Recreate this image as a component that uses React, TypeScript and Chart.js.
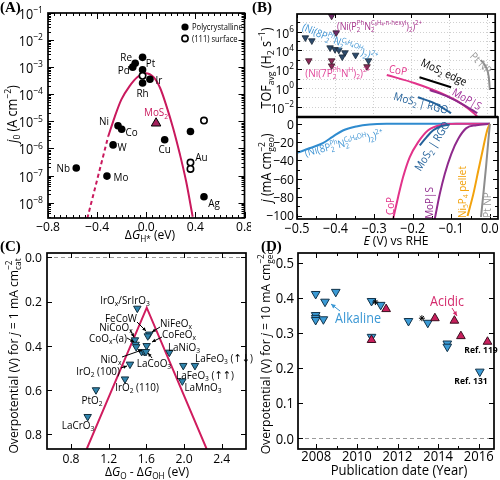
import React, { useEffect, useRef } from "react";
import { Chart, registerables } from "chart.js";

Chart.register(...registerables);

const SANS = '"Open Sans", "Noto Sans", "DejaVu Sans", sans-serif';
const SERIF = '"Liberation Serif", "DejaVu Serif", serif';
const SX = 0.9;

// ===================== DATA =====================
// (A) exchange current density vs ΔG_H*
const A_POLY_METAL = ["Nb", "Mo", "W", "Ni", "Co", "Pd", "Re", "Pt", "Pt", "Rh", "Ir", "Cu", "Au", "Ag"];
const A_POLY_DGH = [-0.57, -0.32, -0.27, -0.23, -0.2, -0.11, -0.09, -0.03, -0.03, -0.03, 0.03, 0.15, 0.36, 0.47];
const A_POLY_J0 = [1.9e-7, 9.5e-8, 1.35e-6, 6.9e-6, 5.1e-6, 1.0e-3, 1.4e-3, 2.3e-3, 8.0e-4, 2.6e-4, 3.6e-4, 2.1e-6, 4.2e-6, 1.65e-8];
const A_111_METAL = ["Pt", "Au", "Au", "Ag"];
const A_111_DGH = [-0.03, 0.36, 0.36, 0.47];
const A_111_J0 = [4.8e-4, 3.0e-7, 1.75e-7, 1.07e-5];
const A_MOS2_DGH = [0.08];
const A_MOS2_J0 = [8.5e-6];
const A_VOLCANO_DGH = [-0.31, -0.256, -0.203, -0.137, -0.071, -0.006, 0.06, 0.113, 0.166, 0.219, 0.272, 0.325, 0.378];
const A_VOLCANO_J0 = [2.75e-6, 1.5e-5, 6.3e-5, 1.95e-4, 4.3e-4, 6.0e-4, 4.3e-4, 1.7e-4, 3.5e-5, 5.6e-6, 6.6e-7, 6.0e-8, 3.0e-9];
const A_EXTRAP_DGH = [-0.48, -0.4, -0.31];
const A_EXTRAP_J0 = [2.6e-9, 6.9e-8, 2.75e-6];
const A_X_TICKS = [-0.8, -0.4, 0, 0.4, 0.8];
const A_Y_TICK_EXP = [-1, -2, -3, -4, -5, -6, -7, -8];

// (B) TOF and polarisation curves
const B_X_TICKS = [-0.5, -0.4, -0.3, -0.2, -0.1, 0.0];
const B_TOF_TICK_EXP = [-2, 0, 2, 4, 6];
const B_J_TICKS = [0, -20, -40, -60, -80, -100];
const B_HEXYL_E = [-0.409, -0.397];
const B_HEXYL_TOF = [4.7e7, 7.8e5];
const B_8P_E = [-0.478, -0.461, -0.413, -0.4, -0.39, -0.374, -0.381, -0.346, -0.312];
const B_8P_TOF = [2.3e5, 1.1e5, 1.95e4, 1.3e4, 1.1e4, 5.8e3, 2.1e3, 3.2e3, 8.1e2];
const B_7P_E = [-0.469, -0.409, -0.409, -0.316];
const B_7P_TOF = [8.1e2, 8.1e2, 2.3e2, 1.9e2];
const B_COP_TOF_E = [-0.264, -0.19, -0.121, -0.069, -0.035, -0.026];
const B_COP_TOF = [24, 3.2, 0.27, 0.023, 1.95e-3, 8.5e-4];
const B_MOS2EDGE_TOF_E = [-0.178, -0.095];
const B_MOS2EDGE_TOF = [13.8, 1.17];
const B_MOPS_TOF_E = [-0.151, -0.104, -0.061, -0.026];
const B_MOPS_TOF = [0.6, 0.117, 0.015, 2.0e-3];
const B_MOS2RGO_TOF_E = [-0.182, -0.138, -0.095];
const B_MOS2RGO_TOF = [0.1, 0.023, 2.0e-3];
const B_PTNP_TOF_E = [-0.017, -0.004, 0.004, 0.007];
const B_PTNP_TOF = [955, 186, 15.8, 0.6];
const B_NI8P_E = [-0.498, -0.468, -0.433, -0.407, -0.381, -0.346, -0.312, -0.268, 0];
const B_NI8P_J = [-31.5, -26.7, -21.2, -13.9, -7.3, -2.9, -0.7, 0, 0];
const B_COP_E = [-0.251, -0.238, -0.225, -0.208, -0.186, -0.16, -0.13, -0.087, 0];
const B_COP_J = [-104, -80, -58, -36.5, -20, -7, -1.6, 0, 0];
const B_MOS2RGO_E = [-0.182, -0.164, -0.147, -0.125, -0.104];
const B_MOS2RGO_J = [-23.6, -14.5, -7.1, -2.4, -0.9];
const B_MOPS_E = [-0.143, -0.13, -0.117, -0.1, -0.082, -0.061, -0.035, 0];
const B_MOPS_J = [-104, -76.7, -54.7, -32.7, -16.3, -4.7, -1.6, 0];
const B_NI5P4_E = [-0.058, -0.043, -0.03, -0.017, -0.007, 0];
const B_NI5P4_J = [-100.5, -76.7, -51, -25.5, -7, 0];
const B_PTNP_E = [-0.023, -0.017, -0.01, -0.004, 0];
const B_PTNP_J = [-101.6, -76.7, -47, -18, 0];

// (C) OER volcano
const C_X_TICKS = [0.8, 1.2, 1.6, 2.0, 2.4];
const C_Y_TICKS = [0, 0.2, 0.4, 0.6, 0.8];
const C_DG = [1.504, 1.631, 1.615, 1.479, 1.486, 1.492, 1.603, 1.55, 1.578, 1.596, 1.844, 1.426, 1.373, 1.065, 0.977, 2.116, 1.992, 1.982];
const C_ETA = [0.231, 0.348, 0.356, 0.374, 0.394, 0.405, 0.4, 0.427, 0.427, 0.427, 0.43, 0.484, 0.551, 0.6, 0.721, 0.49, 0.49, 0.56];
const C_VOLCANO_DG = [0.967, 1.604, 2.24];
const C_VOLCANO_ETA = [0.867, 0.228, 0.867];

// (D) overpotential vs publication date
const D_X_TICKS = [2008, 2010, 2012, 2014, 2016];
const D_Y_TICKS = [0, 0.1, 0.2, 0.3, 0.4, 0.5];
const D_ALK_YEAR = [2007.97, 2007.97, 2007.97, 2007.97, 2008.35, 2008.43, 2008.96, 2010.72, 2010.72, 2011.17, 2012.54, 2013.49, 2014.45, 2014.45, 2016.05];
const D_ALK_ETA = [0.411, 0.351, 0.343, 0.337, 0.339, 0.389, 0.417, 0.391, 0.289, 0.38, 0.334, 0.329, 0.27, 0.261, 0.19];
const D_ACID_YEAR = [2010.72, 2011.44, 2013.84, 2014.8, 2015.12, 2016.43];
const D_ACID_ETA = [0.28, 0.368, 0.342, 0.335, 0.291, 0.275];
const D_STAR_YEAR = [2010.91, 2013.2];
const D_STAR_ETA = [0.388, 0.342];

// ===================== RICH TEXT =====================
type RichOpt = { size: number; color?: string; align?: "left" | "center" | "right"; rot?: number; bold?: boolean; family?: string; sx?: number };
type Seg = { t: string; t2?: string; k: "n" | "sub" | "sup" | "stack"; it: boolean };

function parseRich(s: string): Seg[] {
  const out: Seg[] = [];
  let it = false;
  let buf = "";
  const flush = () => {
    if (buf) {
      out.push({ t: buf, k: "n", it });
      buf = "";
    }
  };
  for (let i = 0; i < s.length; i++) {
    const c = s[i];
    if (c === "~") {
      flush();
      it = !it;
      continue;
    }
    if ((c === "_" || c === "^" || c === "@") && s[i + 1] === "{") {
      flush();
      const end = s.indexOf("}", i + 2);
      const inner = s.slice(i + 2, end);
      if (c === "@") {
        const [p, q] = inner.split("|");
        out.push({ t: p, t2: q, k: "stack", it });
      } else out.push({ t: inner, k: c === "_" ? "sub" : "sup", it });
      i = end;
      continue;
    }
    buf += c;
  }
  flush();
  return out;
}

function rich(ctx: CanvasRenderingContext2D, s: string, x: number, y: number, o: RichOpt) {
  const segs = parseRich(s);
  const fam = o.family || SANS;
  const sz = o.size;
  const ss = sz * 0.68;
  const f = (size: number, it: boolean) => `${it ? "italic " : ""}${o.bold ? "bold " : ""}${size}px ${fam}`;
  const widths = segs.map((g) => {
    if (g.k === "n") {
      ctx.font = f(sz, g.it);
      return ctx.measureText(g.t).width;
    }
    ctx.font = f(ss, g.it);
    if (g.k === "stack") return Math.max(ctx.measureText(g.t).width, ctx.measureText(g.t2 || "").width);
    return ctx.measureText(g.t).width;
  });
  const w = widths.reduce((p, q) => p + q, 0);
  ctx.save();
  ctx.translate(x, y);
  if (o.rot) ctx.rotate((o.rot * Math.PI) / 180);
  ctx.scale(o.sx ?? SX, 1);
  ctx.fillStyle = o.color || "#000";
  ctx.textAlign = "left";
  ctx.textBaseline = "alphabetic";
  let cx = o.align === "left" ? 0 : o.align === "right" ? -w : -w / 2;
  const base = sz * 0.36;
  segs.forEach((g, i) => {
    if (g.k === "n") {
      ctx.font = f(sz, g.it);
      ctx.fillText(g.t, cx, base);
    } else {
      ctx.font = f(ss, g.it);
      if (g.k === "sub") ctx.fillText(g.t, cx, base + sz * 0.22);
      else if (g.k === "sup") ctx.fillText(g.t, cx, base - sz * 0.42);
      else {
        ctx.fillText(g.t, cx, base - sz * 0.42);
        ctx.fillText(g.t2 || "", cx, base + sz * 0.22);
      }
    }
    cx += widths[i];
  });
  ctx.restore();
}

// ===================== HELPERS =====================
const num = (v: number, d: number) => (v < -1e-9 ? "−" : "") + Math.abs(v).toFixed(d);

function frame(ctx: CanvasRenderingContext2D, a: any, lw = 1.7) {
  ctx.save();
  ctx.strokeStyle = "#000";
  ctx.lineWidth = lw;
  ctx.setLineDash([]);
  ctx.strokeRect(a.left, a.top, a.right - a.left, a.bottom - a.top);
  ctx.restore();
}

function ticksX(ctx: CanvasRenderingContext2D, a: any, sc: any, vals: number[], len: number, top = true, bottom = true) {
  ctx.save();
  ctx.strokeStyle = "#000";
  ctx.lineWidth = 1;
  ctx.beginPath();
  vals.forEach((v) => {
    const p = Math.round(sc.getPixelForValue(v)) + 0.5;
    if (bottom) {
      ctx.moveTo(p, a.bottom);
      ctx.lineTo(p, a.bottom - len);
    }
    if (top) {
      ctx.moveTo(p, a.top);
      ctx.lineTo(p, a.top + len);
    }
  });
  ctx.stroke();
  ctx.restore();
}

function ticksY(ctx: CanvasRenderingContext2D, a: any, sc: any, vals: number[], len: number, left = true, right = true) {
  ctx.save();
  ctx.strokeStyle = "#000";
  ctx.lineWidth = 1;
  ctx.beginPath();
  vals.forEach((v) => {
    const p = Math.round(sc.getPixelForValue(v)) + 0.5;
    if (left) {
      ctx.moveTo(a.left, p);
      ctx.lineTo(a.left + len, p);
    }
    if (right) {
      ctx.moveTo(a.right, p);
      ctx.lineTo(a.right - len, p);
    }
  });
  ctx.stroke();
  ctx.restore();
}

function arrow(ctx: CanvasRenderingContext2D, x1: number, y1: number, x2: number, y2: number, color = "#000", head = 4) {
  const ang = Math.atan2(y2 - y1, x2 - x1);
  ctx.save();
  ctx.strokeStyle = color;
  ctx.fillStyle = color;
  ctx.lineWidth = 1;
  ctx.beginPath();
  ctx.moveTo(x1, y1);
  ctx.lineTo(x2, y2);
  ctx.stroke();
  ctx.beginPath();
  ctx.moveTo(x2, y2);
  ctx.lineTo(x2 - head * Math.cos(ang - 0.45), y2 - head * Math.sin(ang - 0.45));
  ctx.lineTo(x2 - head * Math.cos(ang + 0.45), y2 - head * Math.sin(ang + 0.45));
  ctx.closePath();
  ctx.fill();
  ctx.restore();
}

function panelLabel(ctx: CanvasRenderingContext2D, s: string, x: number, y: number) {
  ctx.save();
  ctx.font = `bold 15px ${SERIF}`;
  ctx.fillStyle = "#000";
  ctx.textAlign = "left";
  ctx.textBaseline = "middle";
  ctx.fillText(s, x, y);
  ctx.restore();
}

const pts = (xs: number[], ys: number[]) => xs.map((x, i) => ({ x, y: ys[i] }));

function marks(xs: number[], ys: number[], o: { style: string; r: number; bg: string; border?: string; bw?: number; rot?: number }) {
  return {
    data: pts(xs, ys),
    showLine: false,
    pointStyle: o.style,
    pointRadius: o.r,
    pointBackgroundColor: o.bg,
    pointBorderColor: o.border ?? o.bg,
    pointBorderWidth: o.bw ?? 0,
    pointRotation: o.rot ?? 0,
    backgroundColor: o.bg,
    borderColor: o.border ?? o.bg,
  };
}

function curve(xs: number[], ys: number[], color: string, width: number, dash?: number[], smooth = true) {
  return {
    data: pts(xs, ys),
    showLine: true,
    borderColor: color,
    backgroundColor: color,
    borderWidth: width,
    borderDash: dash ?? [],
    pointRadius: 0,
    cubicInterpolationMode: smooth ? "monotone" : "default",
    tension: 0,
    fill: false,
  };
}

const lin = (min: number, max: number, reverse = false) => ({ type: "linear", min, max, reverse, display: false, bounds: "data" });
const logS = (min: number, max: number) => ({ type: "logarithmic", min, max, display: false, bounds: "data" });

type Area = { l: number; t: number; r: number; b: number };

function makeConfig(W: number, H: number, area: Area, x: any, y: any, datasets: any[], before: (c: any) => void, after: (c: any) => void): any {
  return {
    type: "scatter",
    data: { datasets },
    options: {
      responsive: false,
      maintainAspectRatio: false,
      animation: false,
      events: [],
      layout: { padding: { left: area.l, top: area.t, right: W - area.r, bottom: H - area.b } },
      plugins: { legend: { display: false }, tooltip: { enabled: false }, title: { display: false } },
      scales: { x, y },
    },
    plugins: [
      {
        id: "overlay",
        beforeDatasetsDraw: (c: any) => before(c),
        afterDatasetsDraw: (c: any) => after(c),
      },
    ],
  };
}

const noop = () => {};

// ===================== PANEL A =====================
const A_POLY_LABEL_OFFSETS: ([number, number] | null)[] = [
  [-13, 0], [14, 1], [9, 2], [-14, -5], [10, 3], [-9, 3], [-9, -6], [8, 6], null, [0, 10], [9, 1], [0, 9], null, [10, 6],
];
const A_111_LABEL_OFFSETS: ([number, number] | null)[] = [null, [11, -6], null, null];

function configA(W: number, H: number) {
  const area = { l: 48, t: 13, r: 250, b: 218 };
  const RED = "#c9195d";
  return makeConfig(
    W, H, area,
    lin(-0.8, 0.8),
    logS(2.7e-9, 0.1),
    [
      marks(A_MOS2_DGH, A_MOS2_J0, { style: "triangle", r: 5.5, bg: "#a3215c", border: "#000", bw: 1 }),
      marks(A_111_DGH, A_111_J0, { style: "circle", r: 3.2, bg: "#fff", border: "#000", bw: 1.6 }),
      marks(A_POLY_DGH, A_POLY_J0, { style: "circle", r: 3.8, bg: "#000" }),
      curve(A_VOLCANO_DGH, A_VOLCANO_J0, RED, 2),
      curve(A_EXTRAP_DGH, A_EXTRAP_J0, RED, 2, [4, 3]),
    ],
    noop,
    (c: any) => {
      const ctx: CanvasRenderingContext2D = c.ctx;
      const a = c.chartArea;
      const xs = c.scales.x;
      const ys = c.scales.y;
      const xMinor: number[] = [];
      for (let i = -16; i <= 16; i++) xMinor.push(i * 0.05);
      ticksX(ctx, a, xs, xMinor, 3);
      ticksX(ctx, a, xs, A_X_TICKS, 6);
      const yMinor: number[] = [];
      for (let e = -9; e <= -2; e++) for (let m = 2; m <= 9; m++) {
        const v = m * Math.pow(10, e);
        if (v >= ys.min && v <= ys.max) yMinor.push(v);
      }
      ticksY(ctx, a, ys, yMinor, 3);
      ticksY(ctx, a, ys, A_Y_TICK_EXP.map((e) => Math.pow(10, e)), 6);
      frame(ctx, a);
      A_X_TICKS.forEach((v) => rich(ctx, num(v, 1), xs.getPixelForValue(v), 226, { size: 13.5 }));
      A_Y_TICK_EXP.forEach((e) => rich(ctx, `10^{−${-e}}`, 43, ys.getPixelForValue(Math.pow(10, e)) + 1, { size: 14, align: "right" }));
      rich(ctx, "~j~_{0} (A cm^{−2})", 12, 114, { size: 14, rot: -90 });
      rich(ctx, "Δ~G~_{H*} (eV)", 150, 234, { size: 13.5 });
      A_POLY_METAL.forEach((m, i) => {
        const o = A_POLY_LABEL_OFFSETS[i];
        if (!o) return;
        rich(ctx, m, xs.getPixelForValue(A_POLY_DGH[i]) + o[0], ys.getPixelForValue(A_POLY_J0[i]) + o[1], { size: 11 });
      });
      A_111_METAL.forEach((m, i) => {
        const o = A_111_LABEL_OFFSETS[i];
        if (!o) return;
        rich(ctx, m, xs.getPixelForValue(A_111_DGH[i]) + o[0], ys.getPixelForValue(A_111_J0[i]) + o[1], { size: 11 });
      });
      rich(ctx, "MoS_{2}", xs.getPixelForValue(A_MOS2_DGH[0]), ys.getPixelForValue(A_MOS2_J0[0]) - 11, { size: 11, color: RED });
      // legend
      ctx.save();
      ctx.fillStyle = "#000";
      ctx.beginPath();
      ctx.arc(185, 27, 3.6, 0, Math.PI * 2);
      ctx.fill();
      ctx.strokeStyle = "#000";
      ctx.lineWidth = 1.6;
      ctx.beginPath();
      ctx.arc(185, 38.5, 3.1, 0, Math.PI * 2);
      ctx.stroke();
      ctx.restore();
      rich(ctx, "Polycrystalline", 192, 27, { size: 9.5, align: "left", sx: 0.8 });
      rich(ctx, "(111) surface", 192, 38.5, { size: 9.5, align: "left", sx: 0.8 });
      panelLabel(ctx, "(A)", 0, 8);
    }
  );
}

// ===================== PANEL B =====================
const COL_BLUE = "#2f8bcf";
const COL_PINK = "#e2338a";
const COL_PURPLE = "#8f2a8c";
const COL_DBLUE = "#23619a";
const COL_ORANGE = "#f2a20c";
const COL_GRAY = "#8d8d8d";
const B_AREA_L = 297;
const B_AREA_R = 498;

function configBTop(W: number, H: number) {
  const area = { l: B_AREA_L, t: 14, r: B_AREA_R, b: 117 };
  return makeConfig(
    W, H, area,
    lin(-0.5, 0.021),
    logS(7.9e-4, 7.8e7),
    [
      marks(B_HEXYL_E, B_HEXYL_TOF, { style: "triangle", r: 3.8, bg: "#6e2a68", border: "#2a1a2a", bw: 0.8, rot: 180 }),
      marks(B_8P_E, B_8P_TOF, { style: "triangle", r: 3.8, bg: "#2d4b6c", border: "#1a2a3a", bw: 0.8, rot: 180 }),
      marks(B_7P_E, B_7P_TOF, { style: "triangle", r: 3.8, bg: "#8c2a58", border: "#3a1a2a", bw: 0.8, rot: 180 }),
      curve(B_MOS2EDGE_TOF_E, B_MOS2EDGE_TOF, "#000", 2, undefined, false),
      curve(B_MOS2RGO_TOF_E, B_MOS2RGO_TOF, COL_DBLUE, 2),
      curve(B_MOPS_TOF_E, B_MOPS_TOF, COL_PURPLE, 2),
      curve(B_COP_TOF_E, B_COP_TOF, COL_PINK, 2),
      curve(B_PTNP_TOF_E, B_PTNP_TOF, COL_GRAY, 2),
    ],
    (c: any) => {
      const ctx: CanvasRenderingContext2D = c.ctx;
      const a = c.chartArea;
      ctx.save();
      ctx.strokeStyle = "#c4c4c4";
      ctx.lineWidth = 0.8;
      ctx.setLineDash([1, 2]);
      ctx.beginPath();
      B_X_TICKS.forEach((v) => {
        const p = Math.round(c.scales.x.getPixelForValue(v)) + 0.5;
        ctx.moveTo(p, a.top);
        ctx.lineTo(p, a.bottom);
      });
      for (let e = -3; e <= 7; e++) {
        const p = Math.round(c.scales.y.getPixelForValue(Math.pow(10, e))) + 0.5;
        ctx.moveTo(a.left, p);
        ctx.lineTo(a.right, p);
      }
      ctx.stroke();
      ctx.restore();
    },
    (c: any) => {
      const ctx: CanvasRenderingContext2D = c.ctx;
      const a = c.chartArea;
      const xs = c.scales.x;
      const ys = c.scales.y;
      const major: number[] = [];
      const minor: number[] = [];
      for (let e = -3; e <= 7; e++) (e % 2 === 0 ? major : minor).push(Math.pow(10, e));
      ticksY(ctx, a, ys, minor, 3);
      ticksY(ctx, a, ys, major, 5);
      ticksX(ctx, a, xs, B_X_TICKS, 4, true, false);
      frame(ctx, a);
      B_TOF_TICK_EXP.forEach((e) => rich(ctx, e < 0 ? `10^{−${-e}}` : `10^{${e}}`, 294, ys.getPixelForValue(Math.pow(10, e)) + 1, { size: 13.5, align: "right" }));
      rich(ctx, "TOF_{avg} (H_{2} s^{−1})", 266, 68, { size: 14, rot: -90 });
      rich(ctx, "(Ni(P@{Ph|2}N@{C₆H₄-n-hexyl|2})_{2})^{2+}", 337, 26, { size: 10, color: "#a6348c", align: "left" });
      rich(ctx, "(Ni(8P@{Ph|2}N@{C₆H₄OH|2})_{2})^{2+}", 340, 42, { size: 10.5, color: "#3d93d3", rot: 23 });
      rich(ctx, "(Ni(7P@{Ph|2}N^{H})_{2})^{2+}", 338, 73, { size: 11, color: "#e0479a" });
      rich(ctx, "CoP", 398, 70, { size: 11, color: COL_PINK, rot: 10 });
      rich(ctx, "MoS_{2} edge", 444, 72, { size: 11, rot: 25 });
      rich(ctx, "MoP|S", 467, 99, { size: 11, color: "#a0309a", rot: 30 });
      rich(ctx, "MoS_{2} | RGO", 421, 103, { size: 11, color: COL_DBLUE, rot: 15 });
      rich(ctx, "Pt NP", 481, 63, { size: 11, color: "#999", rot: 45 });
      panelLabel(ctx, "(B)", 252, 8);
    }
  );
}

function configBBottom(W: number, H: number) {
  const area = { l: B_AREA_L, t: 117, r: B_AREA_R, b: 219 };
  return makeConfig(
    W, H, area,
    lin(-0.5, 0.021),
    lin(-103.8, 7.4),
    [
      curve(B_MOS2RGO_E, B_MOS2RGO_J, COL_DBLUE, 2),
      curve(B_PTNP_E, B_PTNP_J, COL_GRAY, 2),
      curve(B_NI5P4_E, B_NI5P4_J, COL_ORANGE, 2),
      curve(B_MOPS_E, B_MOPS_J, COL_PURPLE, 2),
      curve(B_COP_E, B_COP_J, COL_PINK, 2),
      curve(B_NI8P_E, B_NI8P_J, COL_BLUE, 2),
    ],
    noop,
    (c: any) => {
      const ctx: CanvasRenderingContext2D = c.ctx;
      const a = c.chartArea;
      const xs = c.scales.x;
      const ys = c.scales.y;
      const xMinor: number[] = [];
      for (let i = -10; i <= 0; i++) xMinor.push(i * 0.05);
      ticksX(ctx, a, xs, xMinor, 3, false, true);
      ticksX(ctx, a, xs, B_X_TICKS, 5, false, true);
      const yMinor: number[] = [];
      for (let v = -100; v <= 0; v += 10) yMinor.push(v);
      ticksY(ctx, a, ys, yMinor, 3);
      ticksY(ctx, a, ys, B_J_TICKS, 5);
      frame(ctx, a);
      ctx.save();
      ctx.strokeStyle = "#000";
      ctx.lineWidth = 2.4;
      ctx.beginPath();
      ctx.moveTo(a.left, a.top);
      ctx.lineTo(a.right, a.top);
      ctx.stroke();
      ctx.restore();
      B_J_TICKS.forEach((v) => rich(ctx, num(v, 0), 294, ys.getPixelForValue(v), { size: 13.5, align: "right" }));
      B_X_TICKS.forEach((v) => rich(ctx, num(v, 1), xs.getPixelForValue(v), 228, { size: 14 }));
      rich(ctx, "~j~ (mA cm@{−2|geo})", 266, 168, { size: 14, rot: -90 });
      rich(ctx, "~E~ (V) vs RHE", 396, 240, { size: 13.5 });
      rich(ctx, "(Ni(8P@{Ph|2}N@{C₆H₄OH|2})_{2})^{2+}", 344, 143, { size: 10.5, color: "#3d93d3", rot: -14 });
      rich(ctx, "MoS_{2} | RGO", 432, 146, { size: 11, color: COL_DBLUE, rot: -58 });
      rich(ctx, "CoP", 390, 206, { size: 11, color: COL_PINK, rot: -90 });
      rich(ctx, "MoP|S", 429, 203, { size: 11, color: COL_PURPLE, rot: -90 });
      rich(ctx, "Ni_{5}P_{4} pellet", 462, 192, { size: 11, color: COL_ORANGE, rot: -90 });
      rich(ctx, "Pt NP", 487, 205, { size: 11, color: "#999", rot: -90 });
    }
  );
}

// ===================== PANEL C =====================
function configC(W: number, H: number) {
  const area = { l: 47, t: 253, r: 246, b: 449 };
  const RED = "#d01c5e";
  return makeConfig(
    W, H, area,
    lin(0.545, 2.658),
    lin(-0.0195, 0.8674, true),
    [
      marks(C_DG, C_ETA, { style: "triangle", r: 4.3, bg: "#2f84ad", border: "#14303f", bw: 1, rot: 180 }),
      curve(C_VOLCANO_DG, C_VOLCANO_ETA, RED, 2, undefined, false),
    ],
    (c: any) => {
      const ctx: CanvasRenderingContext2D = c.ctx;
      const a = c.chartArea;
      const p = Math.round(c.scales.y.getPixelForValue(0)) + 0.5;
      ctx.save();
      ctx.strokeStyle = "#9a9a9a";
      ctx.lineWidth = 1.2;
      ctx.setLineDash([4, 3]);
      ctx.beginPath();
      ctx.moveTo(a.left, p);
      ctx.lineTo(a.right, p);
      ctx.stroke();
      ctx.restore();
    },
    (c: any) => {
      const ctx: CanvasRenderingContext2D = c.ctx;
      const a = c.chartArea;
      const xs = c.scales.x;
      const ys = c.scales.y;
      ticksX(ctx, a, xs, C_X_TICKS, 5);
      ticksY(ctx, a, ys, C_Y_TICKS, 5);
      frame(ctx, a);
      C_X_TICKS.forEach((v) => rich(ctx, num(v, 1), xs.getPixelForValue(v), 458, { size: 13.5 }));
      C_Y_TICKS.forEach((v) => rich(ctx, num(v, 1), 42, ys.getPixelForValue(v), { size: 13.5, align: "right" }));
      rich(ctx, "Overpotential (V) for ~j~ = 1 mA cm@{−2|cat}", 13, 356, { size: 13.5, rot: -90 });
      rich(ctx, "Δ~G~_{O} - Δ~G~_{OH} (eV)", 147, 471, { size: 13.5 });
      const L = (s: string, x: number, y: number) => rich(ctx, s, x, y, { size: 11 });
      L("IrO_{x}/SrIrO_{3}", 125, 300);
      L("FeCoW", 121, 318);
      L("NiCoO_{x}", 116, 327);
      L("CoO_{x}-(a)", 108, 338);
      L("NiFeO_{x}", 176, 323);
      L("CoFeO_{x}", 179, 334);
      L("LaNiO_{3}", 184, 347);
      L("NiO_{x}", 111, 359);
      L("IrO_{2} (100)", 98, 371);
      L("LaCoO_{3}", 154, 363);
      L("IrO_{2} (110)", 137, 387);
      L("LaFeO_{3} (↑↓)", 224, 358);
      L("LaFeO_{3} (↑↑)", 205, 375);
      L("LaMnO_{3}", 203, 387);
      L("PtO_{2}", 92, 400);
      L("LaCrO_{3}", 78, 425);
      arrow(ctx, 137, 322, 146, 331);
      arrow(ctx, 130, 330, 134, 337);
      arrow(ctx, 127, 338, 134, 342);
      arrow(ctx, 160, 327, 152, 332);
      arrow(ctx, 162, 337, 152, 342);
      arrow(ctx, 122, 357, 142, 350);
      arrow(ctx, 121, 368, 127, 366);
      arrow(ctx, 152, 358, 148, 353);
      panelLabel(ctx, "(C)", 0, 247);
    }
  );
}

// ===================== PANEL D =====================
function configD(W: number, H: number) {
  const area = { l: 298, t: 253, r: 499, b: 449 };
  return makeConfig(
    W, H, area,
    lin(2007.1, 2016.75),
    lin(-0.0302, 0.5276),
    [
      marks(D_STAR_YEAR, D_STAR_ETA, { style: "star", r: 3, bg: "#000", border: "#000", bw: 1 }),
      marks(D_ACID_YEAR, D_ACID_ETA, { style: "triangle", r: 5, bg: "#c81f5c", border: "#3a1020", bw: 1 }),
      marks(D_ALK_YEAR, D_ALK_ETA, { style: "triangle", r: 5, bg: "#3b9bd6", border: "#12334a", bw: 1, rot: 180 }),
    ],
    (c: any) => {
      const ctx: CanvasRenderingContext2D = c.ctx;
      const a = c.chartArea;
      const p = Math.round(c.scales.y.getPixelForValue(0)) + 0.5;
      ctx.save();
      ctx.strokeStyle = "#9a9a9a";
      ctx.lineWidth = 1.2;
      ctx.setLineDash([4, 3]);
      ctx.beginPath();
      ctx.moveTo(a.left, p);
      ctx.lineTo(a.right, p);
      ctx.stroke();
      ctx.restore();
    },
    (c: any) => {
      const ctx: CanvasRenderingContext2D = c.ctx;
      const a = c.chartArea;
      const xs = c.scales.x;
      const ys = c.scales.y;
      const xMinor: number[] = [];
      for (let v = 2008; v <= 2016; v++) xMinor.push(v);
      ticksX(ctx, a, xs, xMinor, 3);
      ticksX(ctx, a, xs, D_X_TICKS, 5);
      ticksY(ctx, a, ys, D_Y_TICKS, 5);
      frame(ctx, a);
      D_X_TICKS.forEach((v) => rich(ctx, String(v), xs.getPixelForValue(v), 456, { size: 14.5 }));
      D_Y_TICKS.forEach((v) => rich(ctx, num(v, 1), 294, ys.getPixelForValue(v), { size: 14.5, align: "right" }));
      rich(ctx, "Overpotential (V) for ~j~ = 10 mA cm@{−2|geo}", 265, 352, { size: 13.5, rot: -90 });
      rich(ctx, "Publication date (Year)", 399, 470, { size: 14.5 });
      rich(ctx, "Alkaline", 358, 318, { size: 14, color: "#3a97d4" });
      arrow(ctx, 340, 311, 331, 304, "#3a97d4", 5);
      rich(ctx, "Acidic", 447, 301, { size: 14, color: "#d42a6c" });
      arrow(ctx, 452, 308, 457, 316, "#d42a6c", 5);
      rich(ctx, "Ref. 119", 481, 350, { size: 9.5, bold: true });
      rich(ctx, "Ref. 131", 471, 381, { size: 9.5, bold: true });
      panelLabel(ctx, "(D)", 261, 247);
    }
  );
}

// ===================== REACT =====================
function ChartCanvas({ make, w, h }: { make: (w: number, h: number) => any; w: number; h: number }) {
  const ref = useRef<HTMLCanvasElement>(null);
  useEffect(() => {
    const chart = new Chart(ref.current as HTMLCanvasElement, make(w, h));
    return () => chart.destroy();
  }, []);
  return <canvas ref={ref} width={w} height={h} style={{ position: "absolute", left: 0, top: 0, width: w, height: h }} />;
}

export default function App() {
  return (
    <div style={{ position: "fixed", left: 0, top: 0, width: 500, height: 480, background: "#fff", overflow: "hidden" }}>
      <ChartCanvas make={configA} w={251} h={480} />
      <ChartCanvas make={configBTop} w={500} h={480} />
      <ChartCanvas make={configBBottom} w={500} h={480} />
      <ChartCanvas make={configC} w={500} h={480} />
      <ChartCanvas make={configD} w={500} h={480} />
    </div>
  );
}
